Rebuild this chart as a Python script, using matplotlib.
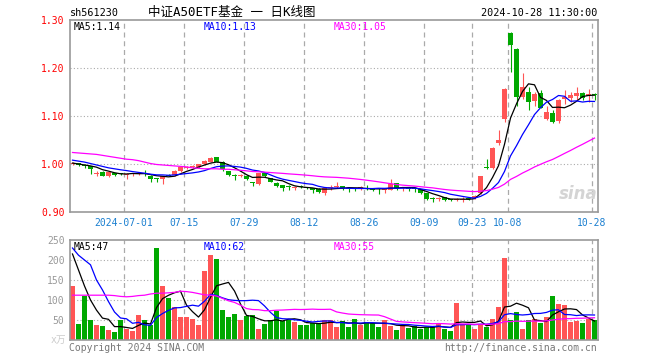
import matplotlib
matplotlib.use('Agg')
import matplotlib.pyplot as plt
import numpy as np

# daily K-line data, 2024-06-18 .. 2024-10-28 (88 trading days)
opens = [1.000, 1.002, 0.998, 0.995, 0.980, 0.984, 0.975, 0.981, 0.980, 0.978,
         0.979, 0.979, 0.982, 0.976, 0.970, 0.968, 0.977, 0.977, 0.985, 0.991,
         0.994, 0.994, 0.999, 1.005, 1.014, 1.005, 0.985, 0.978, 0.976, 0.976,
         0.962, 0.959, 0.981, 0.970, 0.961, 0.956, 0.954, 0.950, 0.955, 0.951,
         0.949, 0.948, 0.939, 0.951, 0.952, 0.954, 0.950, 0.949, 0.948, 0.951,
         0.948, 0.950, 0.946, 0.946, 0.960, 0.949, 0.950, 0.950, 0.947, 0.939,
         0.930, 0.927, 0.931, 0.927, 0.925, 0.926, 0.929, 0.930, 0.939, 0.993,
         0.992, 1.043, 1.094, 1.272, 1.240, 1.140, 1.151, 1.132, 1.147, 1.094,
         1.106, 1.090, 1.136, 1.138, 1.141, 1.147, 1.142, 1.145]
highs = [1.004, 1.003, 0.999, 0.996, 0.986, 0.985, 0.984, 0.982, 0.981, 0.982,
         0.982, 0.983, 0.988, 0.977, 0.971, 0.976, 0.979, 0.987, 0.994, 0.996,
         0.998, 1.001, 1.008, 1.015, 1.015, 1.006, 0.986, 0.979, 0.980, 0.977,
         0.963, 0.982, 0.983, 0.971, 0.962, 0.957, 0.956, 0.955, 0.957, 0.952,
         0.950, 0.949, 0.953, 0.956, 0.962, 0.955, 0.951, 0.951, 0.954, 0.956,
         0.949, 0.951, 0.950, 0.968, 0.961, 0.953, 0.951, 0.951, 0.948, 0.940,
         0.931, 0.931, 0.932, 0.928, 0.929, 0.932, 0.932, 0.936, 0.976, 1.010,
         1.035, 1.071, 1.158, 1.275, 1.242, 1.189, 1.161, 1.151, 1.154, 1.120,
         1.112, 1.135, 1.154, 1.150, 1.161, 1.149, 1.156, 1.147]
lows = [0.997, 0.996, 0.992, 0.979, 0.976, 0.974, 0.972, 0.975, 0.977, 0.969,
        0.976, 0.977, 0.976, 0.962, 0.962, 0.958, 0.974, 0.976, 0.983, 0.989,
        0.991, 0.992, 0.998, 1.004, 1.004, 0.985, 0.976, 0.967, 0.972, 0.966,
        0.954, 0.957, 0.973, 0.962, 0.953, 0.943, 0.946, 0.946, 0.950, 0.947,
        0.940, 0.939, 0.936, 0.946, 0.950, 0.946, 0.941, 0.944, 0.946, 0.946,
        0.943, 0.938, 0.939, 0.945, 0.945, 0.944, 0.944, 0.941, 0.937, 0.926,
        0.921, 0.922, 0.923, 0.922, 0.922, 0.920, 0.925, 0.928, 0.937, 0.990,
        0.990, 1.040, 1.088, 1.192, 1.121, 1.135, 1.112, 1.120, 1.116, 1.092,
        1.086, 1.085, 1.124, 1.130, 1.133, 1.134, 1.130, 1.133]
closes = [1.002, 0.998, 0.995, 0.990, 0.982, 0.976, 0.983, 0.978, 0.979, 0.980,
          0.981, 0.981, 0.979, 0.969, 0.968, 0.975, 0.975, 0.986, 0.993, 0.994,
          0.995, 1.000, 1.007, 1.013, 1.005, 0.989, 0.978, 0.976, 0.978, 0.968,
          0.960, 0.981, 0.975, 0.963, 0.955, 0.951, 0.952, 0.952, 0.952, 0.949,
          0.946, 0.941, 0.950, 0.953, 0.954, 0.949, 0.948, 0.948, 0.952, 0.948,
          0.945, 0.948, 0.948, 0.959, 0.949, 0.951, 0.948, 0.948, 0.939, 0.928,
          0.928, 0.929, 0.926, 0.924, 0.927, 0.928, 0.927, 0.933, 0.975, 0.991,
          1.033, 1.050, 1.156, 1.248, 1.140, 1.161, 1.130, 1.146, 1.117, 1.108,
          1.088, 1.133, 1.140, 1.144, 1.148, 1.137, 1.145, 1.143]
# volume, 万
volumes = [135, 40, 111, 50, 37.5, 35, 25, 20, 50, 26.7,
           23, 62.5, 50, 38, 231, 135, 105, 81.7, 57.5, 57.5,
           52.5, 37.5, 172.5, 212.5, 202.5, 75, 57.5, 65, 50, 60,
           62.5, 27.5, 40, 50, 72.5, 47.5, 50, 45, 37.5, 37.5,
           42.5, 42.5, 50, 50, 32.5, 47.5, 32.5, 52.5, 37.5, 45,
           42.5, 32.5, 50, 35, 25, 37.5, 30, 35, 27.5, 32.5,
           32.5, 42.5, 27.5, 22.5, 92.5, 40, 37.5, 27.5, 40, 32.5,
           52.5, 82.5, 205, 50, 70, 27.5, 50, 52.5, 42.5, 57.5,
           110, 90, 87.5, 45, 48, 43, 52, 49]

# moving average values at the start of the window (they need days before 06-18)
ma5_head = [1.002, 1.000, 0.998, 0.996]
ma10_head = [1.008, 1.006, 1.004, 1.001, 0.998, 0.995, 0.992, 0.990, 0.988]
ma30_head = [1.024, 1.023, 1.022, 1.021, 1.020, 1.018, 1.016, 1.014, 1.012, 1.010,
             1.009, 1.007, 1.004, 1.001, 0.999, 0.998, 0.997, 0.996, 0.995, 0.994,
             0.992, 0.991, 0.990, 0.990, 0.990, 0.989, 0.989, 0.988, 0.987]
vma5_head = [215, 175, 135, 100]
vma10_head = [230, 212, 200, 188, 150, 125, 96, 70, 55]
vma30_head = [112, 112, 112, 112, 112, 112, 112, 111, 109, 108,
              109, 111, 112, 115, 117, 117, 118, 119, 122, 121,
              119, 116, 113, 112, 110, 104, 98, 94, 87]

tick_idx = [9, 19, 29, 39, 49, 59, 67, 73, 87]
tick_lbl = ['2024-07-01', '07-15', '07-29', '08-12', '08-26', '09-09', '09-23', '10-08', '10-28']


def moving_avg(values, n, head):
    out = list(head)
    for i in range(len(head), len(values)):
        out.append(np.mean(values[i - n + 1:i + 1]))
    return out


RED = '#ff5555'
GREEN = '#00a800'
GRID = '#aaaaaa'
FRAME = '#999999'
MONO = 'DejaVu Sans Mono'
FS = 7

W, H = 660, 360
fig = plt.figure(figsize=(6.6, 3.6), dpi=100)
ax = fig.add_axes([70 / W, 1 - 212 / H, 528 / W, 192 / H])
axv = fig.add_axes([70 / W, 1 - 340 / H, 528 / W, 100 / H])

n = len(closes)
x = np.arange(n)
x0 = -2.5 / 6
px = 0.4 / 192  # one pixel in price units

# candles
for i in x:
    o, h, l, c = opens[i], highs[i], lows[i], closes[i]
    col = RED if c >= o else GREEN
    ax.vlines(i, l, h, color=col, lw=0.8)
    ax.bar(i, max(abs(c - o), px), bottom=min(o, c), width=0.8, color=col, lw=0)

ma5 = moving_avg(closes, 5, ma5_head)
ma10 = moving_avg(closes, 10, ma10_head)
ma30 = moving_avg(closes, 30, ma30_head)
ax.plot(x, ma5, color='black', lw=0.9)
ax.plot(x, ma10, color='#0000ff', lw=0.9)
ax.plot(x, ma30, color='#ff00ff', lw=0.9)

# volume
vcol = [RED if closes[i] >= opens[i] else GREEN for i in x]
axv.bar(x, volumes, width=0.84, color=vcol, lw=0)
vma5 = moving_avg(volumes, 5, vma5_head)
vma10 = moving_avg(volumes, 10, vma10_head)
vma30 = moving_avg(volumes, 30, vma30_head)
axv.plot(x, vma5, color='black', lw=0.9)
axv.plot(x, vma10, color='#0000ff', lw=0.9)
axv.plot(x, vma30, color='#ff00ff', lw=0.9)

for a in (ax, axv):
    a.set_xlim(x0, x0 + n)
    for t in tick_idx:
        a.axvline(t + x0, color=GRID, lw=0.9, ls=(0, (4, 3)), zorder=0)
    for s in a.spines.values():
        s.set_color(FRAME)
        s.set_linewidth(1.2)
    a.tick_params(length=0)

ax.set_ylim(0.90, 1.30)
for yv in (1.0, 1.1, 1.2):
    ax.axhline(yv, color=GRID, lw=0.8, ls=(0, (1, 2)), zorder=0)
ax.set_yticks([0.9, 1.0, 1.1, 1.2, 1.3])
ax.set_yticklabels(['0.90', '1.00', '1.10', '1.20', '1.30'], color='#ff0000',
                   family=MONO, fontsize=FS)
ax.set_xticks([t + x0 for t in tick_idx])
ax.set_xticklabels(tick_lbl, color='#1a7fd0', family=MONO, fontsize=FS)
ax.tick_params(axis='y', pad=4)
ax.tick_params(axis='x', pad=4)

axv.set_ylim(0, 250)
for yv in (50, 100, 150, 200):
    axv.axhline(yv, color=GRID, lw=0.8, ls=(0, (1, 2)), zorder=0)
axv.set_yticks([50, 100, 150, 200, 250])
axv.set_yticklabels(['50', '100', '150', '200', '250'], color='#999999',
                    family=MONO, fontsize=FS)
axv.tick_params(axis='y', pad=4)
axv.set_xticks([])


def ftext(px_x, px_y, s, **kw):
    fig.text(px_x / W, 1 - px_y / H, s, va='center', **kw)


ftext(70, 13, 'sh561230', family=MONO, fontsize=FS + 0.3, color='black')
ftext(232, 12, '中证A50ETF基金 一 日K线图', family=[MONO, 'Noto Sans CJK SC'],
      fontsize=9, color='black', ha='center')
ftext(597, 13, '2024-10-28 11:30:00', family=MONO, fontsize=FS + 0.3,
      color='black', ha='right')

ftext(74, 27, 'MA5:%.2f' % ma5[-1], family=MONO, fontsize=FS, color='black')
ftext(204, 27, 'MA10:%.2f' % ma10[-1], family=MONO, fontsize=FS, color='#0000ff')
ftext(334, 27, 'MA30:%.2f' % ma30[-1], family=MONO, fontsize=FS, color='#ff00ff')
ftext(74, 247, 'MA5:%d' % int(vma5[-1]), family=MONO, fontsize=FS, color='black')
ftext(204, 247, 'MA10:%d' % int(vma10[-1]), family=MONO, fontsize=FS, color='#0000ff')
ftext(334, 247, 'MA30:%d' % int(vma30[-1]), family=MONO, fontsize=FS, color='#ff00ff')

ftext(66, 340, 'x万', family=[MONO, 'Noto Sans CJK SC'], fontsize=FS,
      color='#cccccc', ha='right')
ftext(69, 348, 'Copyright 2024 SINA.COM', family=MONO, fontsize=FS, color='#777777')
ftext(597, 348, 'http://finance.sina.com.cn', family=MONO, fontsize=FS,
      color='#777777', ha='right')
ftext(578, 194, 'sina', fontsize=12, color='#d4d4d4', ha='center',
      fontweight='bold', style='italic')

fig.savefig('out.png', dpi=100)
